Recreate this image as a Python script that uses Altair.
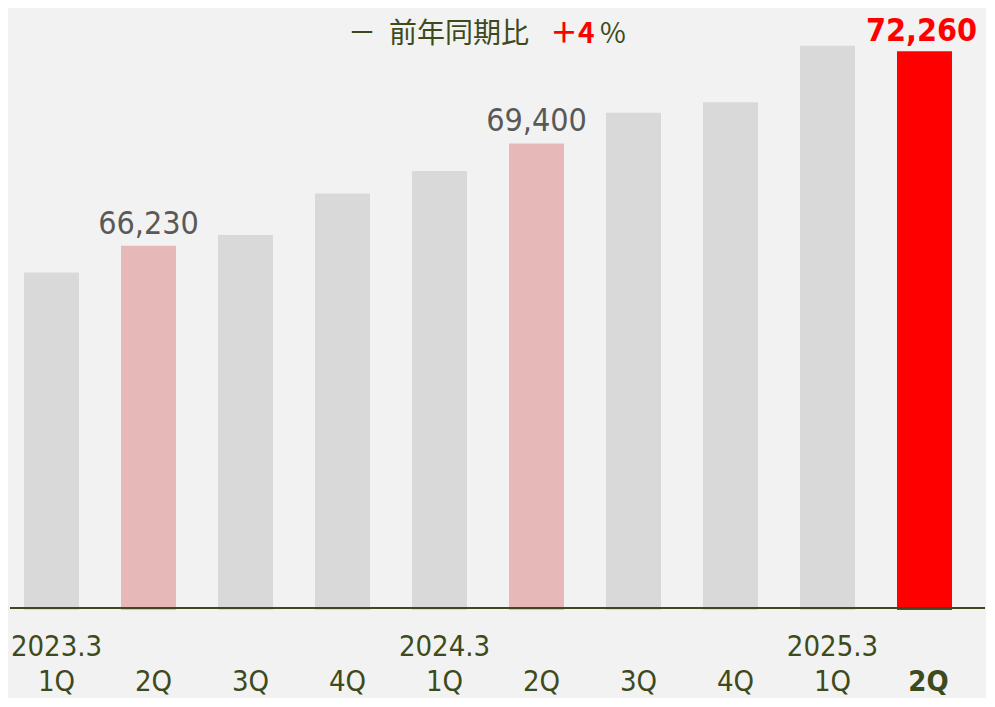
import altair as alt
import pandas as pd

# ---- data ----
periods = ["2023.3-1Q", "2023.3-2Q", "2023.3-3Q", "2023.3-4Q",
           "2024.3-1Q", "2024.3-2Q", "2024.3-3Q", "2024.3-4Q",
           "2025.3-1Q", "2025.3-2Q"]
quarters = ["1Q", "2Q", "3Q", "4Q", "1Q", "2Q", "3Q", "4Q", "1Q", "2Q"]
fiscal_years = ["2023.3", "", "", "", "2024.3", "", "", "", "2025.3", ""]
values = [65400, 66230, 66560, 67850, 68550, 69400, 70350, 70680, 72430, 72260]
kinds = ["other", "prior", "other", "other", "other", "prior", "other", "other", "other", "current"]
value_labels = ["", "66,230", "", "", "", "69,400", "", "", "", "72,260"]

df = pd.DataFrame({
    "period": periods,
    "quarter": quarters,
    "fy": fiscal_years,
    "value": values,
    "kind": kinds,
    "label": value_labels,
})

OLIVE = "#3d4a1c"
GREY_TXT = "#595959"
FONT = "DejaVu Sans Condensed, Liberation Sans, DejaVu Sans"

x_enc = alt.X("period:N", sort=periods, axis=None,
              scale=alt.Scale(paddingInner=0.433, paddingOuter=0.165))
y_scale = alt.Scale(domain=[55000, 73600], zero=False, nice=False)

base = alt.Chart(df)

bars = base.mark_bar().encode(
    x=x_enc,
    y=alt.Y("value:Q", scale=y_scale, axis=None),
    y2=alt.datum(54940),
    color=alt.Color("kind:N", legend=None,
                    scale=alt.Scale(domain=["other", "prior", "current"],
                                    range=["#d9d9d9", "#e6b8b7", "#ff0000"])),
)

baseline_rule = base.mark_rule(color=OLIVE, strokeWidth=2).encode(
    x=alt.value(2), x2=alt.value(977), y=alt.datum(55000)
).transform_filter(alt.datum.period == periods[0])

prior_labels = base.transform_filter(alt.datum.kind == "prior").mark_text(
    font=FONT, fontSize=32, color=GREY_TXT, baseline="alphabetic", dy=-12
).encode(x=x_enc, y=alt.Y("value:Q", scale=y_scale), text="label:N")

current_label = base.transform_filter(alt.datum.kind == "current").mark_text(
    font=FONT, fontSize=32, fontWeight="bold", color="#ff0000",
    baseline="alphabetic", dy=-10, dx=-3
).encode(x=x_enc, y=alt.Y("value:Q", scale=y_scale), text="label:N")

year_labels = base.transform_filter(alt.datum.fy != "").mark_text(
    font=FONT, fontSize=29, color=OLIVE, baseline="alphabetic", dx=5
).encode(x=x_enc, y=alt.value(648), text="fy:N")

q_labels = base.transform_filter(alt.datum.kind != "current").mark_text(
    font=FONT, fontSize=29, color=OLIVE, baseline="alphabetic", dx=5
).encode(x=x_enc, y=alt.value(683), text="quarter:N")

q_label_current = base.transform_filter(alt.datum.kind == "current").mark_text(
    font=FONT, fontSize=29, fontWeight="bold", color=OLIVE, baseline="alphabetic", dx=4
).encode(x=x_enc, y=alt.value(683), text="quarter:N")

# headline
head_df = pd.DataFrame({"t": ["x"]})
CJK = "Noto Sans CJK JP"
HEAD_Y = 35
head1 = alt.Chart(head_df).mark_text(
    font=CJK, fontSize=28, color=OLIVE, align="left", baseline="alphabetic"
).encode(x=alt.value(340), y=alt.value(HEAD_Y), text=alt.value("－"))
head2 = alt.Chart(head_df).mark_text(
    font=CJK, fontSize=28, color=OLIVE, align="left", baseline="alphabetic"
).encode(x=alt.value(381), y=alt.value(HEAD_Y), text=alt.value("前年同期比"))
head3 = alt.Chart(head_df).mark_text(
    font=CJK, fontSize=28, fontWeight="bold", color="#ff0000", align="left", baseline="alphabetic"
).encode(x=alt.value(542), y=alt.value(HEAD_Y), text=alt.value("＋4"))
head4 = alt.Chart(head_df).mark_text(
    font=CJK, fontSize=28, color=OLIVE, align="left", baseline="alphabetic"
).encode(x=alt.value(592), y=alt.value(HEAD_Y), text=alt.value("%"))

chart = alt.layer(
    bars, baseline_rule, prior_labels, current_label,
    year_labels, q_labels, q_label_current,
    head1, head2, head3, head4,
).properties(
    width=960, height=600,
    autosize=alt.AutoSizeParams(type="none"),
    padding={"left": 0, "top": 0, "right": 18, "bottom": 90},
    background="#f2f2f2",
).configure_view(stroke=None)

chart.save("out.html", embed_options={"renderer": "svg", "actions": False})
